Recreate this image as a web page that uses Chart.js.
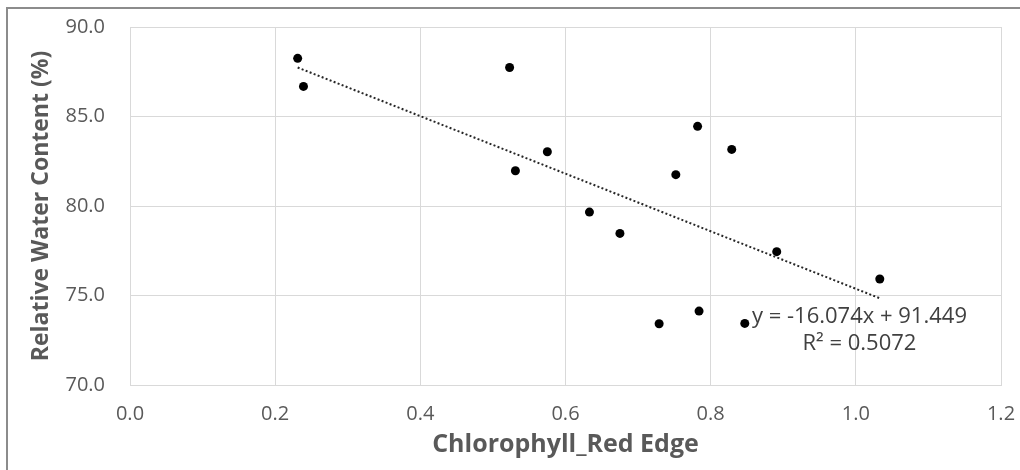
<!DOCTYPE html>
<html>
<head>
<meta charset="utf-8">
<script src="https://cdn.jsdelivr.net/npm/chart.js@4.4.1/dist/chart.umd.min.js"></script>
<style>
  html, body { margin: 0; padding: 0; background: #ffffff; }
  #wrap { position: relative; width: 1020px; height: 470px; overflow: hidden; }
  #frame { position: absolute; left: 6px; top: 7px; width: 1020px; height: 470px;
           border-left: 2px solid #8c8c8c; border-top: 2px solid #8c8c8c; pointer-events: none; }
  canvas { position: absolute; left: 0; top: 0; }
</style>
</head>
<body>
<div id="wrap">
  <canvas id="c" width="1020" height="470"></canvas>
  <div id="frame"></div>
</div>
<script>
// ---- data ----
const chlorophyllRedEdge = [0.231, 0.239, 0.523, 0.575, 0.531, 0.752, 0.633, 0.675, 0.782, 0.829, 0.891, 1.033, 0.729, 0.784, 0.847];
const relativeWaterContent = [88.25, 86.68, 87.74, 83.03, 81.97, 81.75, 79.66, 78.47, 84.45, 83.16, 77.45, 75.92, 73.42, 74.13, 73.44];
const trendSlope = -16.074;
const trendIntercept = 91.449;
const equationText = 'y = -16.074x + 91.449';
const rSquaredText = 'R\u00B2 = 0.5072';
const xTitle = 'Chlorophyll_Red Edge';
const yTitle = 'Relative Water Content (%)';

const points = chlorophyllRedEdge.map((x, i) => ({ x: x, y: relativeWaterContent[i] }));
const xMin = Math.min(...chlorophyllRedEdge);
const xMax = Math.max(...chlorophyllRedEdge);
const trendPoints = [
  { x: xMin, y: trendSlope * xMin + trendIntercept },
  { x: xMax, y: trendSlope * xMax + trendIntercept }
];

const labelPlugin = {
  id: 'eqLabel',
  afterDatasetsDraw(chart) {
    const ctx = chart.ctx;
    const xs = chart.scales.x, ys = chart.scales.y;
    ctx.save();
    ctx.fillStyle = '#404040';
    ctx.font = '22px "Open Sans"';
    ctx.textAlign = 'center';
    ctx.textBaseline = 'middle';
    const cx = xs.getPixelForValue(1.005);
    ctx.fillText(equationText, cx, ys.getPixelForValue(73.8));
    ctx.fillText(rSquaredText, cx, ys.getPixelForValue(72.3));
    ctx.restore();
  }
};

Chart.defaults.font.family = '"Open Sans"';
Chart.defaults.color = '#595959';

new Chart(document.getElementById('c'), {
  type: 'scatter',
  data: {
    datasets: [
      {
        label: 'data',
        data: points,
        backgroundColor: '#000000',
        borderColor: '#000000',
        pointRadius: 4.5,
        pointBorderWidth: 0,
        clip: false
      },
      {
        type: 'line',
        label: 'trend',
        data: trendPoints,
        borderColor: '#262626',
        borderWidth: 2,
        borderDash: [2, 2.3],
        pointRadius: 0,
        fill: false
      }
    ]
  },
  options: {
    responsive: false,
    animation: false,
    layout: { padding: { left: 0, top: 27, right: 19, bottom: 0 } },
    plugins: { legend: { display: false }, tooltip: { enabled: false } },
    scales: {
      x: {
        type: 'linear',
        min: 0, max: 1.2,
        afterFit(s) { s.height = 85; s.paddingLeft = 0; s.paddingRight = 0; },
        ticks: { stepSize: 0.2, padding: 17, font: { size: 20 }, color: '#595959',
                 callback: v => Number(v).toFixed(1) },
        grid: { color: '#d9d9d9', lineWidth: 1, drawTicks: false },
        border: { display: true, color: '#d9d9d9' },
        title: { display: true, text: xTitle, color: '#595959',
                 font: { size: 25, weight: 'bold' }, padding: { top: 0, bottom: 10 } }
      },
      y: {
        type: 'linear',
        min: 70, max: 90,
        afterFit(s) { s.width = 130; s.paddingTop = 0; s.paddingBottom = 0; },
        ticks: { stepSize: 5, padding: 25, font: { size: 20 }, color: '#595959',
                 callback: v => Number(v).toFixed(1) },
        grid: { color: '#d9d9d9', lineWidth: 1, drawTicks: false },
        border: { display: true, color: '#d9d9d9' },
        title: { display: true, text: yTitle, color: '#595959',
                 font: { size: 23, weight: 'bold' }, padding: { top: 28, bottom: 0 } }
      }
    }
  },
  plugins: [labelPlugin]
});
</script>
</body>
</html>
